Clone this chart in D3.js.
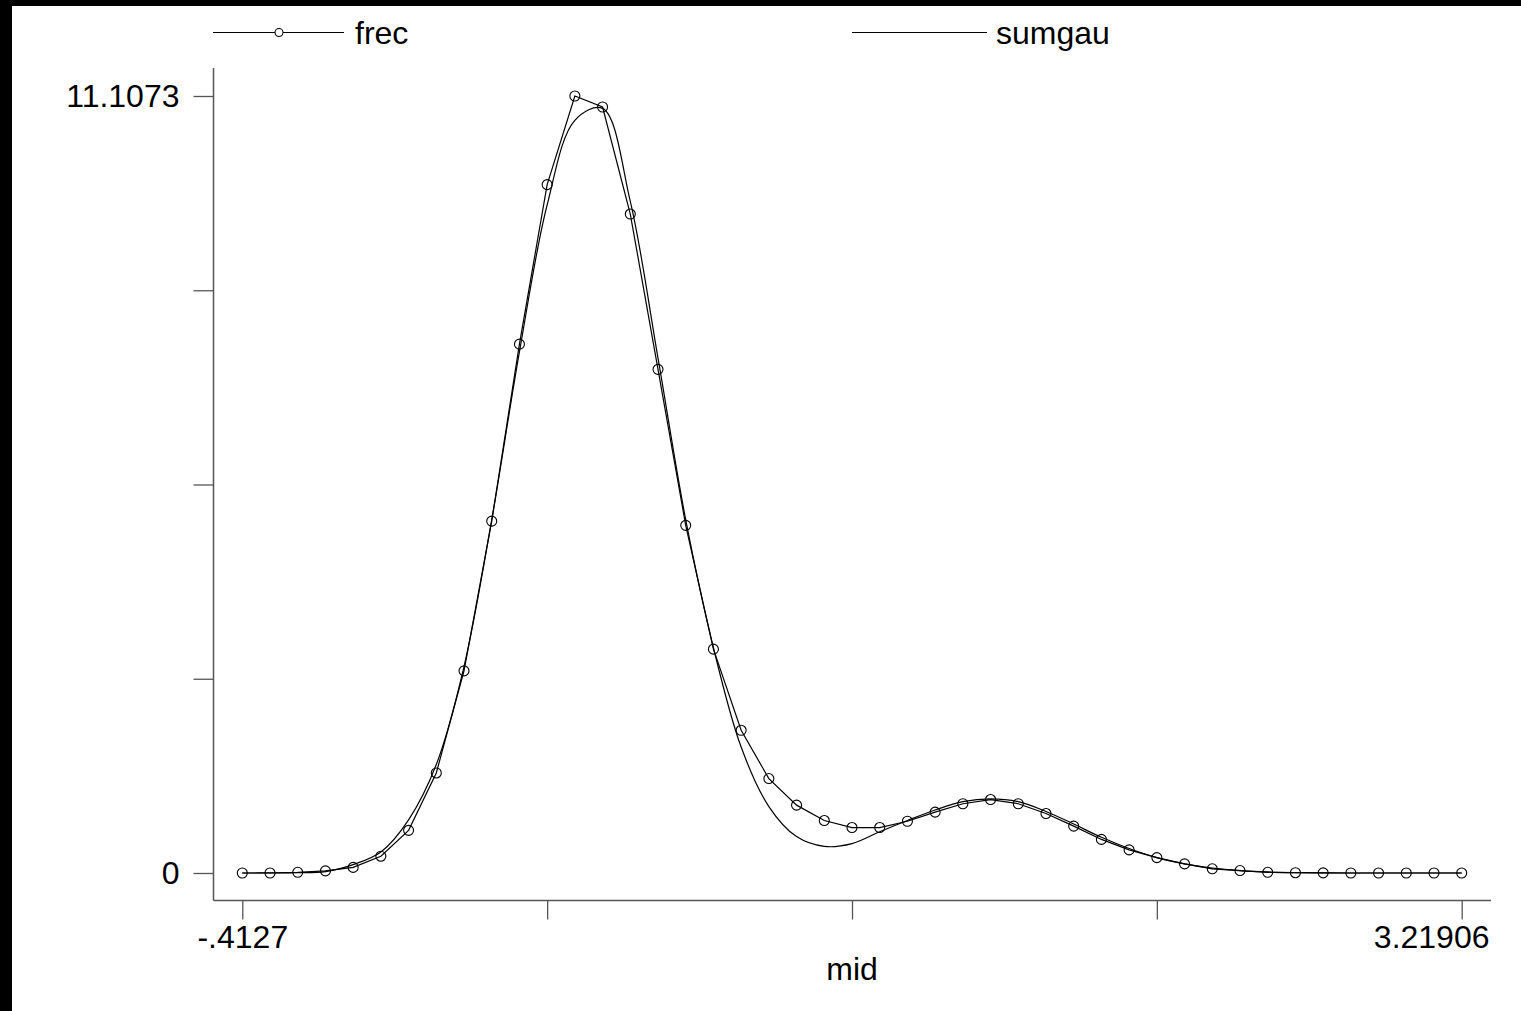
<!DOCTYPE html>
<html>
<head>
<meta charset="utf-8">
<script src="https://cdn.jsdelivr.net/npm/d3@7/dist/d3.min.js"></script>
<style>
  html, body { margin: 0; padding: 0; background: #fff; }
  svg { display: block; }
  text { font-family: "Liberation Sans", Arial, sans-serif; fill: #000; }
</style>
</head>
<body>
<script>
// Bin midpoints
const mid = [
  -0.41270, -0.33016, -0.24762, -0.16508, -0.08254, 0.00000, 0.08254, 0.16508,
   0.24762,  0.33016,  0.41270,  0.49524,  0.57778, 0.66032, 0.74286, 0.82540,
   0.90794,  0.99048,  1.07302,  1.15556,  1.23810, 1.32064, 1.40318, 1.48572,
   1.56826,  1.65080,  1.73334,  1.81588,  1.89842, 1.98096, 2.06350, 2.14604,
   2.22858,  2.31112,  2.39366,  2.47620,  2.55874, 2.64128, 2.72382, 2.80636,
   2.88890,  2.97144,  3.05398,  3.13652,  3.21906
];

// Observed frequency per bin
const frec = [
  0, 0, 0.01, 0.03, 0.08, 0.24, 0.61, 1.43,
  2.89, 5.03, 7.56, 9.84, 11.1073, 10.95, 9.42, 7.20,
  4.97, 3.20, 2.04, 1.35, 0.97, 0.75, 0.65, 0.65,
  0.74, 0.87, 0.99, 1.05, 0.99, 0.85, 0.67, 0.48,
  0.33, 0.22, 0.13, 0.06, 0.035, 0.01, 0.004, 0.002,
  0, 0, 0, 0, 0
];

// Fitted sum of gaussians at the same midpoints
const sumgau = [
  0, 0.001, 0.005, 0.02, 0.12, 0.30, 0.76, 1.55,
  2.95, 5.05, 7.45, 9.55, 10.76, 10.93, 9.60, 7.36,
  5.05, 3.22, 1.80, 0.95, 0.52, 0.38, 0.42, 0.59,
  0.75, 0.90, 1.02, 1.06, 1.02, 0.88, 0.70, 0.51,
  0.35, 0.22, 0.13, 0.07, 0.035, 0.015, 0.006, 0.002,
  0, 0, 0, 0, 0
];

const seriesNames = ["frec", "sumgau"];
const xTickLabels = ["-.4127", "3.21906"];
const yTickLabels = ["0", "11.1073"];
const xTitle = "mid";

const W = 1521, H = 1011;
const svg = d3.select("body").append("svg").attr("width", W).attr("height", H);

svg.append("rect").attr("width", W).attr("height", H).attr("fill", "#fff");
// dark frame strips along the left and top edges
svg.append("rect").attr("x", 0).attr("y", 0).attr("width", 12).attr("height", H).attr("fill", "#000");
svg.append("rect").attr("x", 0).attr("y", 0).attr("width", W).attr("height", 6).attr("fill", "#000");

const xMin = mid[0], xMax = mid[mid.length - 1];
const yMax = d3.max(frec);

const x = d3.scaleLinear().domain([xMin, xMax]).range([242.3, 1461.7]);
const y = d3.scaleLinear().domain([0, yMax]).range([873, 96]);

const axisLeftX = 213.5, axisBottomY = 900.5;
const axisColor = "#555";

// y axis
const yTicks = d3.range(5).map(i => i * yMax / 4);
const yAxis = d3.axisLeft(y)
  .tickValues(yTicks)
  .tickSize(20)
  .tickPadding(14)
  .tickFormat((d, i) => i === 0 ? yTickLabels[0] : (i === 4 ? yTickLabels[1] : ""));
const gy = svg.append("g").attr("transform", `translate(${axisLeftX},0)`).call(yAxis);
gy.select(".domain").remove();
gy.selectAll(".tick line").attr("stroke", axisColor).attr("stroke-width", 1.3);
gy.selectAll(".tick text")
  .style("font-size", "32px")
  .style("font-family", "'Liberation Sans', Arial, sans-serif")
  .attr("dy", "0.34em");
svg.append("line")
  .attr("x1", axisLeftX).attr("x2", axisLeftX)
  .attr("y1", 68).attr("y2", axisBottomY)
  .attr("stroke", axisColor).attr("stroke-width", 1.5);

// x axis
const xTicks = d3.range(5).map(i => xMin + i * (xMax - xMin) / 4);
const xAxis = d3.axisBottom(x)
  .tickValues(xTicks)
  .tickSize(19)
  .tickPadding(6)
  .tickFormat((d, i) => i === 0 ? xTickLabels[0] : (i === 4 ? xTickLabels[1] : ""));
const gx = svg.append("g").attr("transform", `translate(0,${axisBottomY})`).call(xAxis);
gx.select(".domain").remove();
gx.selectAll(".tick line").attr("stroke", axisColor).attr("stroke-width", 1.3);
gx.selectAll(".tick text")
  .style("font-size", "32px")
  .style("font-family", "'Liberation Sans', Arial, sans-serif");
// keep the last label inside the axis extent
gx.selectAll(".tick").filter((d, i) => i === 4).select("text")
  .attr("text-anchor", "end")
  .attr("x", 1489 - x(xMax));
svg.append("line")
  .attr("x1", axisLeftX).attr("x2", 1491)
  .attr("y1", axisBottomY).attr("y2", axisBottomY)
  .attr("stroke", axisColor).attr("stroke-width", 1.5);

svg.append("text")
  .attr("x", 852).attr("y", 980)
  .attr("text-anchor", "middle")
  .style("font-size", "32px")
  .text(xTitle);

// series
const pts = (ys) => mid.map((m, i) => [m, ys[i]]);

const lineFrec = d3.line().x(d => x(d[0])).y(d => y(d[1]));
const lineSum = d3.line().x(d => x(d[0])).y(d => y(d[1])).curve(d3.curveCatmullRom.alpha(0.5));

svg.append("path")
  .datum(pts(sumgau))
  .attr("d", lineSum)
  .attr("fill", "none").attr("stroke", "#000").attr("stroke-width", 1.2);

svg.append("path")
  .datum(pts(frec))
  .attr("d", lineFrec)
  .attr("fill", "none").attr("stroke", "#000").attr("stroke-width", 1.2);

svg.append("g").selectAll("circle")
  .data(pts(frec))
  .join("circle")
  .attr("cx", d => x(d[0])).attr("cy", d => y(d[1]))
  .attr("r", 5)
  .attr("fill", "none").attr("stroke", "#000").attr("stroke-width", 1.1);

// legend
const legY = 32.5;
const leg = svg.append("g");
leg.append("line").attr("x1", 213).attr("x2", 344).attr("y1", legY).attr("y2", legY)
  .attr("stroke", "#000").attr("stroke-width", 1.2);
leg.append("circle").attr("cx", 279).attr("cy", legY).attr("r", 4)
  .attr("fill", "#fff").attr("stroke", "#000").attr("stroke-width", 1.1);
leg.append("text").attr("x", 355).attr("y", legY).attr("dy", "0.35em")
  .style("font-size", "32px").text(seriesNames[0]);

leg.append("line").attr("x1", 852).attr("x2", 987).attr("y1", legY).attr("y2", legY)
  .attr("stroke", "#000").attr("stroke-width", 1.2);
leg.append("text").attr("x", 996).attr("y", legY).attr("dy", "0.35em")
  .style("font-size", "32px").text(seriesNames[1]);
</script>
</body>
</html>
